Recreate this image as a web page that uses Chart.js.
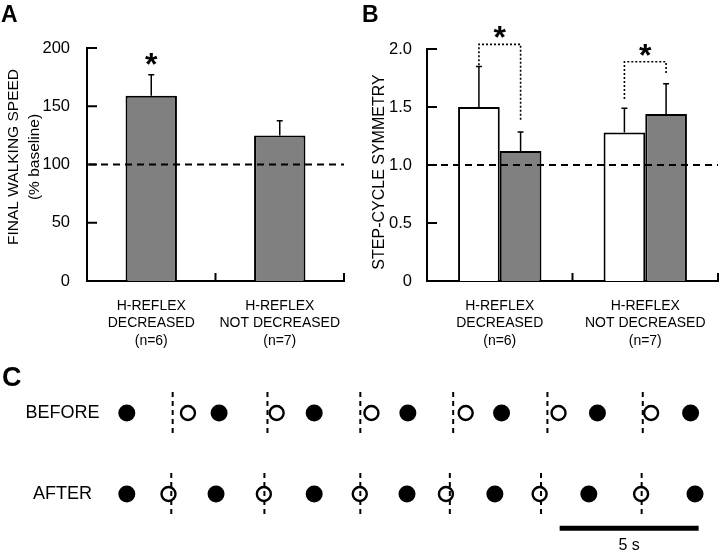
<!DOCTYPE html>
<html>
<head>
<meta charset="utf-8">
<script src="https://cdn.jsdelivr.net/npm/chart.js@4.4.1/dist/chart.umd.min.js"></script>
<style>
  body { margin: 0; background: #fff; }
  #wrap { position: relative; width: 720px; height: 552px; }
  canvas { position: absolute; }
</style>
</head>
<body>
<div id="wrap">
  <canvas id="chartA" width="360" height="356" style="left:0;top:0"></canvas>
  <canvas id="chartB" width="360" height="356" style="left:360px;top:0"></canvas>
  <canvas id="chartC" width="720" height="196" style="left:0;top:356px"></canvas>
</div>
<script>
const FONT = '"Liberation Sans", Arial, Helvetica, sans-serif';

// categories shared by A and B
const groupLabels = [['H-REFLEX', 'DECREASED', '(n=6)'], ['H-REFLEX', 'NOT DECREASED', '(n=7)']];

// panel A - final walking speed (% baseline)
const speedMean = [159, 125];
const speedErr = [18, 12.5];
const speedTicks = [0, 50, 100, 150, 200];
const speedStars = [true, false];

// panel B - step-cycle symmetry, open = before, grey = after
const symBefore = [1.50, 1.28];
const symBeforeErr = [0.35, 0.21];
const symAfter = [1.12, 1.44];
const symAfterErr = [0.165, 0.26];
const symTicks = [0, 0.5, 1.0, 1.5, 2.0];
// bracket per group: [left leg bottom, top, right leg bottom]
const symBrackets = [[1.86, 2.04, 1.38], [1.57, 1.89, 1.78]];

// panel C - step times (s)
const rowLabels = ['BEFORE', 'AFTER'];
const beforeFilled = [0, 3.32, 6.74, 10.11, 13.48, 16.93, 20.28];
const beforeOpen = [2.20, 5.39, 8.80, 12.19, 15.53, 18.86];
const beforeMarks = [1.65, 5.06, 8.40, 11.74, 15.13, 18.56];
const afterFilled = [0, 3.21, 6.74, 10.08, 13.24, 16.62, 20.44];
const afterOpen = [1.50, 4.93, 8.38, 11.48, 14.85, 18.50];
const afterMarks = [1.60, 4.95, 8.40, 11.62, 14.90, 18.52];
const scaleBarStart = 15.57, scaleBarLen = 5;

Chart.defaults.font.family = FONT;
Chart.defaults.color = '#000';
Chart.defaults.animation = false;
Chart.defaults.plugins.legend.display = false;
Chart.defaults.plugins.tooltip.enabled = false;

function star(ctx, x, y) {
  ctx.save();
  ctx.fillStyle = '#000';
  ctx.font = 'bold 32px ' + FONT;
  ctx.textAlign = 'center';
  ctx.textBaseline = 'alphabetic';
  ctx.fillText('*', x, y + 17);
  ctx.restore();
}

function panelLetter(ctx, txt, x, y, size) {
  ctx.save();
  ctx.fillStyle = '#000';
  ctx.font = 'bold ' + size + 'px ' + FONT;
  ctx.textAlign = 'left';
  ctx.textBaseline = 'middle';
  ctx.fillText(txt, x, y);
  ctx.restore();
}

function yTitle(ctx, lines, x, y, gap) {
  ctx.save();
  ctx.fillStyle = '#000';
  ctx.translate(x, y);
  ctx.rotate(-Math.PI / 2);
  ctx.textAlign = 'center';
  ctx.textBaseline = 'middle';
  lines.forEach((l, i) => {
    ctx.font = l.size + 'px ' + FONT;
    ctx.fillText(l.text, 0, i * gap);
  });
  ctx.restore();
}

// inward axis ticks, reference line, error bars
const barExtras = {
  id: 'barExtras',
  afterDatasetsDraw(chart, args, opts) {
    const { ctx, chartArea, scales: { x, y } } = chart;
    ctx.save();
    ctx.strokeStyle = '#000';

    // y ticks pointing in
    ctx.lineWidth = 2;
    y.ticks.forEach(t => {
      const py = y.getPixelForValue(t.value);
      ctx.beginPath();
      ctx.moveTo(chartArea.left, py);
      ctx.lineTo(chartArea.left + 10, py);
      ctx.stroke();
    });
    // x ticks between groups and at the end
    for (let i = 1; i <= x.ticks.length; i++) {
      const px = x.getPixelForValue(i - 0.5);
      ctx.beginPath();
      ctx.moveTo(px, chartArea.bottom);
      ctx.lineTo(px, chartArea.bottom - 8);
      ctx.stroke();
    }

    // error bars
    ctx.lineWidth = 1.5;
    opts.errors.forEach((errs, d) => {
      const meta = chart.getDatasetMeta(d);
      const vals = chart.data.datasets[d].data;
      errs.forEach((e, i) => {
        const bx = meta.data[i].x;
        const y0 = y.getPixelForValue(vals[i]);
        const y1 = y.getPixelForValue(vals[i] + e);
        ctx.beginPath();
        ctx.moveTo(bx, y0);
        ctx.lineTo(bx, y1);
        ctx.moveTo(bx - 3, y1);
        ctx.lineTo(bx + 3, y1);
        ctx.stroke();
      });
    });

    // dashed reference line
    ctx.lineWidth = 2;
    ctx.setLineDash([7, 5]);
    const ry = y.getPixelForValue(opts.ref);
    ctx.beginPath();
    ctx.moveTo(chartArea.left + 2, ry);
    ctx.lineTo(chartArea.right, ry);
    ctx.stroke();
    ctx.restore();
  }
};

// panel A
new Chart(document.getElementById('chartA'), {
  type: 'bar',
  data: {
    labels: groupLabels,
    datasets: [{
      data: speedMean,
      backgroundColor: '#808080',
      borderColor: '#000',
      borderWidth: 2,
      barPercentage: 0.4,
      categoryPercentage: 1
    }]
  },
  options: {
    responsive: false,
    layout: { padding: { top: 48, right: 16, left: 0, bottom: 0 } },
    scales: {
      x: {
        grid: { display: false },
        border: { color: '#000', width: 2 },
        ticks: { font: { size: 14, lineHeight: 1.25 }, padding: 8, maxRotation: 0, autoSkip: false },
        afterFit: s => { s.height = 75; }
      },
      y: {
        min: 0, max: 200,
        afterBuildTicks: s => { s.ticks = speedTicks.map(v => ({ value: v })); },
        grid: { display: false },
        border: { color: '#000', width: 2 },
        ticks: { font: { size: 16.5 }, padding: 9 },
        afterFit: s => { s.width = 87; }
      }
    },
    plugins: { barExtras: { errors: [speedErr], ref: 100 } }
  },
  plugins: [barExtras, {
    id: 'textA',
    afterDraw(chart) {
      const { ctx, scales: { y } } = chart;
      panelLetter(ctx, 'A', 1, 16, 23);
      yTitle(ctx, [{ text: 'FINAL WALKING SPEED', size: 15.5 }, { text: '(% baseline)', size: 15.5 }], 14, 157, 21);
      const meta = chart.getDatasetMeta(0);
      speedStars.forEach((s, i) => {
        if (!s) return;
        star(ctx, meta.data[i].x, y.getPixelForValue(speedMean[i] + speedErr[i]) - 17);
      });
    }
  }]
});

// panel B
new Chart(document.getElementById('chartB'), {
  type: 'bar',
  data: {
    labels: groupLabels,
    datasets: [{
      data: symBefore,
      backgroundColor: '#fff',
      borderColor: '#000',
      borderWidth: 2,
      barPercentage: 1,
      categoryPercentage: 0.573
    }, {
      data: symAfter,
      backgroundColor: '#808080',
      borderColor: '#000',
      borderWidth: 2,
      barPercentage: 1,
      categoryPercentage: 0.573
    }]
  },
  options: {
    responsive: false,
    layout: { padding: { top: 49, right: 2, left: 0, bottom: 0 } },
    scales: {
      x: {
        grid: { display: false },
        border: { color: '#000', width: 2 },
        ticks: { font: { size: 14, lineHeight: 1.25 }, padding: 8, maxRotation: 0, autoSkip: false },
        afterFit: s => { s.height = 75; }
      },
      y: {
        min: 0, max: 2,
        afterBuildTicks: s => { s.ticks = symTicks.map(v => ({ value: v })); },
        grid: { display: false },
        border: { color: '#000', width: 2 },
        ticks: { font: { size: 16.5 }, padding: 7, callback: v => v === 0 ? '0' : v.toFixed(1) },
        afterFit: s => { s.width = 67; }
      }
    },
    plugins: { barExtras: { errors: [symBeforeErr, symAfterErr], ref: 1 } }
  },
  plugins: [barExtras, {
    id: 'textB',
    afterDraw(chart) {
      const { ctx, scales: { y } } = chart;
      panelLetter(ctx, 'B', 2, 16, 23);
      yTitle(ctx, [{ text: 'STEP-CYCLE SYMMETRY', size: 16 }], 20, 172, 0);
      const m0 = chart.getDatasetMeta(0), m1 = chart.getDatasetMeta(1);
      ctx.save();
      ctx.strokeStyle = '#000';
      ctx.lineWidth = 1.6;
      ctx.setLineDash([2, 2]);
      symBrackets.forEach((b, i) => {
        const xl = m0.data[i].x, xr = m1.data[i].x;
        const top = y.getPixelForValue(b[1]);
        ctx.beginPath();
        ctx.moveTo(xl, y.getPixelForValue(b[0]));
        ctx.lineTo(xl, top);
        ctx.lineTo(xr, top);
        ctx.lineTo(xr, y.getPixelForValue(b[2]));
        ctx.stroke();
        star(ctx, (xl + xr) / 2, top - 13);
      });
      ctx.restore();
    }
  }]
});

// panel C
const rowPoints = (times, row) => times.map(t => ({ x: t, y: row }));
const filledStyle = { pointRadius: 8.5, pointBackgroundColor: '#000', pointBorderWidth: 0, clip: false };
const openStyle = { pointRadius: 7, pointBackgroundColor: 'rgba(0,0,0,0)', pointBorderColor: '#000', pointBorderWidth: 2.4, clip: false };

new Chart(document.getElementById('chartC'), {
  type: 'scatter',
  data: {
    datasets: [
      Object.assign({ data: rowPoints(beforeFilled, 'BEFORE') }, filledStyle),
      Object.assign({ data: rowPoints(beforeOpen, 'BEFORE') }, openStyle),
      Object.assign({ data: rowPoints(afterFilled, 'AFTER') }, filledStyle),
      Object.assign({ data: rowPoints(afterOpen, 'AFTER') }, openStyle)
    ]
  },
  options: {
    responsive: false,
    layout: { padding: { top: 16.5, bottom: 17.5, right: 5, left: 0 } },
    scales: {
      x: { type: 'linear', min: -1, max: 21, display: false },
      y: {
        type: 'category',
        labels: rowLabels,
        offset: true,
        grid: { display: false },
        border: { display: false },
        ticks: { font: { size: 18 }, crossAlign: 'center', padding: -8.5 },
        afterFit: s => { s.width = 99; }
      }
    }
  },
  plugins: [{
    id: 'timeline',
    beforeDatasetsDraw(chart) {
      const { ctx, scales: { x, y } } = chart;
      ctx.save();
      ctx.strokeStyle = '#000';
      ctx.lineWidth = 2;
      ctx.setLineDash([5, 4]);
      [beforeMarks, afterMarks].forEach((marks, r) => {
        const yc = y.getPixelForValue(r);
        marks.forEach(t => {
          const px = x.getPixelForValue(t);
          ctx.beginPath();
          ctx.moveTo(px, yc - 21);
          ctx.lineTo(px, yc + 21);
          ctx.stroke();
        });
      });
      ctx.restore();
    },
    afterDraw(chart) {
      const { ctx, scales: { x } } = chart;
      panelLetter(ctx, 'C', 2, 23, 27);
      const x0 = x.getPixelForValue(scaleBarStart);
      const x1 = x.getPixelForValue(scaleBarStart + scaleBarLen);
      ctx.save();
      ctx.strokeStyle = '#000';
      ctx.lineWidth = 5;
      ctx.beginPath();
      ctx.moveTo(x0, 172.3);
      ctx.lineTo(x1, 172.3);
      ctx.stroke();
      ctx.fillStyle = '#000';
      ctx.font = '16px ' + FONT;
      ctx.textAlign = 'center';
      ctx.textBaseline = 'middle';
      ctx.fillText(scaleBarLen + ' s', (x0 + x1) / 2, 190);
      ctx.restore();
    }
  }]
});
</script>
</body>
</html>
